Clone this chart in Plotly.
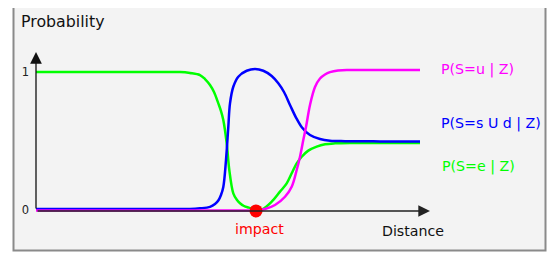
import plotly.graph_objects as go

# ---- data (distance in arbitrary units, probability 0..1) ----
green_x = [0, 1.2, 2.4, 3.0, 3.35, 3.6, 3.85, 4.1, 4.225, 4.35, 4.45, 4.5575, 4.625, 4.6825, 4.7675, 4.8325,
           4.9325, 5.025, 5.1, 5.2, 5.3075, 5.5, 5.65, 5.8925, 6.1, 6.2675, 6.3925, 6.5175, 6.6425, 6.8075,
           7.0175, 7.225, 7.475, 7.85, 8.3, 8.9, 9.6]
green_y = [1.0, 1.0, 1.0, 1.0, 1.0, 1.0, 0.993, 0.978, 0.949, 0.906, 0.855, 0.773, 0.717, 0.652, 0.483, 0.290,
           0.121, 0.072, 0.049, 0.029, 0.018, 0.004, 0.004, 0.060, 0.133, 0.193, 0.266, 0.338, 0.386, 0.430,
           0.459, 0.476, 0.483, 0.486, 0.486, 0.486, 0.486]

blue_x = [0, 1.2, 2.4, 3.2, 3.6, 3.85, 4.1, 4.35, 4.475, 4.5575, 4.625, 4.6825, 4.75, 4.8075, 4.85, 4.9325,
          5.0575, 5.2675, 5.475, 5.6825, 5.8925, 6.0575, 6.2, 6.35, 6.5, 6.65, 6.85, 7.1, 7.35, 7.725, 8.1,
          8.6, 9.1, 9.6]
blue_y = [0.007, 0.007, 0.007, 0.007, 0.007, 0.007, 0.012, 0.023, 0.043, 0.069, 0.109, 0.167, 0.362, 0.601,
          0.773, 0.893, 0.966, 1.009, 1.022, 1.009, 0.971, 0.918, 0.855, 0.761, 0.670, 0.598, 0.543, 0.514,
          0.502, 0.499, 0.498, 0.497, 0.496, 0.496]

magenta_x = [0, 1.5, 3.0, 4.0, 4.6, 5.0, 5.3, 5.5, 5.725, 5.975, 6.225, 6.3925, 6.5175, 6.6, 6.6825, 6.75,
             6.85, 6.975, 7.1, 7.225, 7.35, 7.55, 7.85, 8.3, 8.9, 9.6]
magenta_y = [-0.004, -0.004, -0.004, -0.004, -0.004, -0.004, -0.004, -0.004, 0.007, 0.036, 0.096, 0.169,
             0.290, 0.386, 0.507, 0.601, 0.761, 0.891, 0.953, 0.982, 0.999, 1.011, 1.014, 1.014, 1.014, 1.014]

impact_x = [5.5]
impact_y = [-0.007]

tick_vals = [0, 1]
tick_text = ["0", "1"]

series_names = ["P(S=u | Z)", "P(S=s U d | Z)", "P(S=e | Z)"]

# ---- layout geometry (window pixels; page body has an 8px margin) ----
OFF = 8
W, H = 548, 247
PX0, PX1 = 36, 436      # plot area left/right (window px)
PY_TOP, PY_BOT = 40, 220
XSCALE = 40.0           # px per distance unit
Y0PX, YSCALE = 210.0, 138.0

def fx(px):
    return (px - OFF) / W

def fy(py):
    return 1 - (py - OFF) / H

x_range = [0, (PX1 - PX0) / XSCALE]
y_range = [(Y0PX - PY_BOT) / YSCALE, (Y0PX - PY_TOP) / YSCALE]

FONT = "DejaVu Sans"
GREEN, BLUE, MAGENTA, RED = "#00ff00", "#0000ff", "#ff00ff", "#ff0000"
SM = 1.0

fig = go.Figure()
fig.add_trace(go.Scatter(x=green_x, y=green_y, mode="lines",
                         line=dict(color=GREEN, width=2.5, shape="spline", smoothing=SM)))
fig.add_trace(go.Scatter(x=blue_x, y=blue_y, mode="lines",
                         line=dict(color=BLUE, width=2.5, shape="spline", smoothing=SM)))
fig.add_trace(go.Scatter(x=magenta_x, y=magenta_y, mode="lines",
                         line=dict(color=MAGENTA, width=2.5, shape="spline", smoothing=SM)))
fig.add_trace(go.Scatter(x=impact_x, y=impact_y, mode="markers",
                         marker=dict(color=RED, size=13, line=dict(width=0)), cliponaxis=False))

shapes = [dict(type="rect", xref="paper", yref="paper",
               x0=fx(13.5), x1=fx(545.5), y0=fy(250.5), y1=fy(3),
               fillcolor="#f3f3f3", line=dict(color="#8a8a8a", width=2), layer="below")]

annotations = []
# axes arrows
annotations.append(dict(x=0, y=(Y0PX - 52) / YSCALE, ax=0, ay=0, xref="x", yref="y", axref="x", ayref="y",
                        text="", showarrow=True, arrowhead=2, arrowsize=1.8, arrowwidth=1.3,
                        arrowcolor="#111", standoff=0))
annotations.append(dict(x=(430 - PX0) / XSCALE, y=-1 / YSCALE, ax=0, ay=-1 / YSCALE,
                        xref="x", yref="y", axref="x", ayref="y",
                        text="", showarrow=True, arrowhead=2, arrowsize=1.8, arrowwidth=1.3,
                        arrowcolor="#222", standoff=0))

def label(text, px, py, color, size=14.2, xanchor="left"):
    annotations.append(dict(text=text, x=fx(px), y=fy(py), xref="paper", yref="paper",
                            xanchor=xanchor, yanchor="middle", showarrow=False,
                            font=dict(family=FONT, size=size, color=color)))

label("Probability", 19, 22, "#111", size=15.8)
label(series_names[0], 439, 70, MAGENTA)
label(series_names[1], 439, 123, BLUE)
label(series_names[2], 440, 166, GREEN)
label("impact", 259, 229, RED, xanchor="center")
label("Distance", 413, 231, "#111", xanchor="center")

fig.update_layout(
    width=W, height=H,
    margin=dict(l=0, r=0, t=0, b=0),
    paper_bgcolor="white", plot_bgcolor="rgba(0,0,0,0)",
    showlegend=False,
    shapes=shapes, annotations=annotations,
    xaxis=dict(domain=[fx(PX0), fx(PX1)], range=x_range, showgrid=False, zeroline=False,
               showline=False, showticklabels=False, fixedrange=True),
    yaxis=dict(domain=[fy(PY_BOT), fy(PY_TOP)], range=y_range, showgrid=False, zeroline=False,
               showline=False, tickvals=tick_vals, ticktext=tick_text, ticks="",
               ticklabelstandoff=6, tickfont=dict(family=FONT, size=11.5, color="#222"),
               fixedrange=True),
)

fig.write_html("out.html", config={"displayModeBar": False})
